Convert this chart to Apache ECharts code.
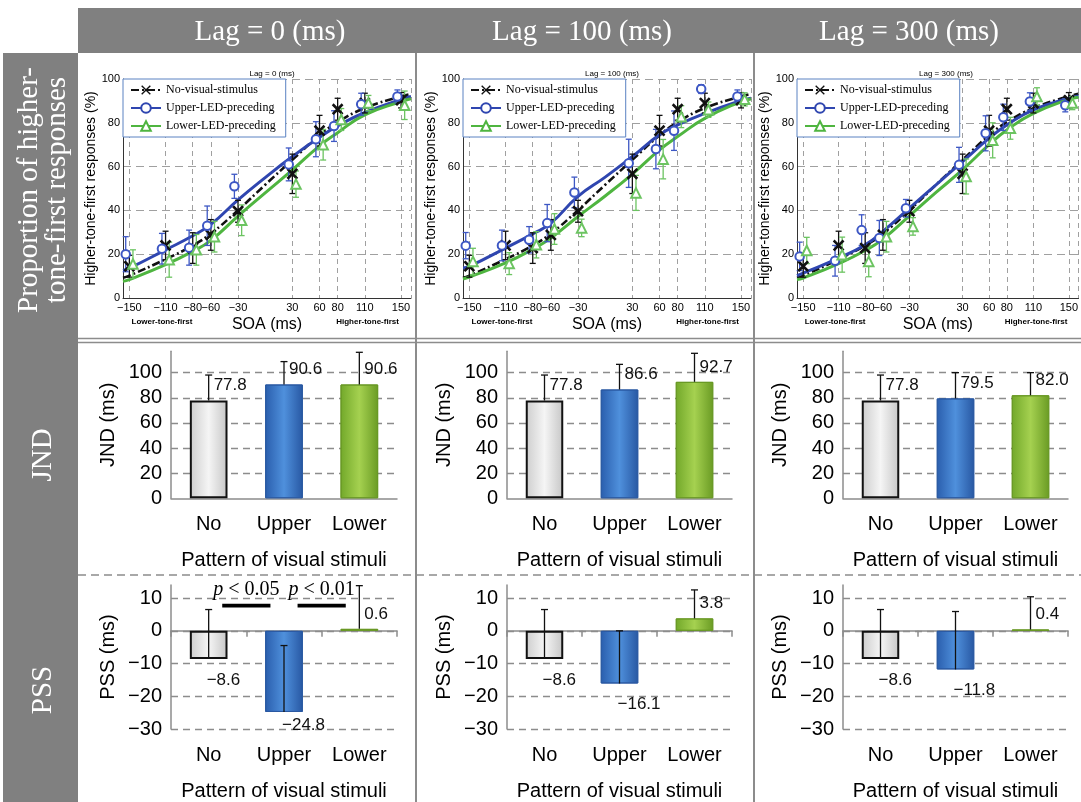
<!DOCTYPE html>
<html><head><meta charset="utf-8">
<script src="https://cdn.jsdelivr.net/npm/echarts@6/dist/echarts.min.js"></script>
<style>html,body{margin:0;padding:0;background:#fff}#c{width:1081px;height:802px}</style>
</head><body><div id="c"></div>
<script>
// ---------------- DATA ----------------
const lagTitles = ['Lag = 0 (ms)', 'Lag = 100 (ms)', 'Lag = 300 (ms)'];
const rowLabels = ['Proportion of higher-\ntone-first responses', 'JND', 'PSS'];
const seriesNames = ['No-visual-stimulus', 'Upper-LED-preceding', 'Lower-LED-preceding'];
const directionLabels = ['Lower-tone-first', 'Higher-tone-first'];
const soaValues = [-150, -110, -80, -60, -30, 30, 60, 80, 110, 150];
const fitSoa = [-157, -150, -110, -80, -60, -30, 0, 30, 60, 80, 110, 150, 161];

const fitNo          = [9.2, 10.2, 17.7, 24.0, 29.4, 40.1, 51.7, 63.1, 74.3, 80.3, 86.7, 92.1, 93.2];
const fitUpperLag0   = [12.6, 13.6, 22.0, 28.4, 33.6, 44.8, 55.0, 64.6, 73.4, 78.6, 84.7, 90.7, 92.0];
const fitLowerLag0   = [7.6, 8.4, 15.2, 21.3, 26.3, 37.4, 48.0, 58.5, 69.5, 75.5, 83.6, 89.7, 91.0];
const fitUpperLag100 = [13.7, 14.4, 22.8, 29.3, 34.2, 46.4, 55.2, 64.6, 74.5, 79.0, 84.3, 90.1, 91.2];
const fitLowerLag100 = [8.7, 9.6, 16.0, 22.3, 27.4, 37.2, 46.6, 56.6, 67.6, 73.7, 82.0, 89.7, 90.9];
const fitUpperLag300 = [10.2, 11.4, 18.2, 24.3, 30.4, 41.0, 51.7, 62.3, 73.0, 79.0, 85.9, 91.2, 92.2];
const fitLowerLag300 = [8.4, 9.1, 15.7, 21.7, 26.9, 37.5, 48.2, 58.6, 70.0, 76.7, 84.3, 90.7, 91.7];

const noMean          = [14.5, 24.0, 22.8, 28.8, 39.6, 56.7, 76.4, 86.2, 89.0, 90.3];
const noSd            = [5, 6.5, 7, 7, 5, 9, 7, 5, 4.5, 3.5];
const upperMeanLag0   = [20.0, 22.5, 23.0, 33.0, 51.0, 61.0, 72.5, 78.5, 88.5, 92.0];
const upperSdLag0     = [8, 7, 8, 9, 5.5, 7.5, 8, 7, 5, 3];
const lowerMeanLag0   = [15.5, 17.5, 22.0, 28.0, 35.5, 52.0, 70.0, 81.5, 89.0, 88.0];
const lowerSdLag0     = [6.5, 8, 7, 7, 7, 6, 7, 5, 3.5, 6.5];
const upperMeanLag100 = [23.9, 24.0, 26.6, 34.2, 48.2, 61.5, 68.0, 76.4, 95.4, 92.0];
const upperSdLag100   = [6, 7, 6, 8.5, 7, 11, 9, 9, 2, 3];
const lowerMeanLag100 = [16.7, 15.7, 24.3, 31.5, 32.0, 48.0, 63.4, 82.8, 86.0, 90.7];
const lowerSdLag100   = [6, 5, 6, 7, 4, 8, 9, 5, 3.5, 3];
const upperMeanLag300 = [19.0, 17.0, 31.0, 27.4, 41.0, 60.8, 75.2, 82.5, 89.7, 88.0];
const upperSdLag300   = [6.5, 7, 7, 8, 4, 8, 8, 6, 4, 3];
const lowerMeanLag300 = [21.7, 19.8, 16.7, 28.0, 32.7, 55.5, 72.0, 77.5, 92.0, 89.0];
const lowerSdLag300   = [6, 8, 7, 7, 4, 8, 8, 5, 4, 3];

const patternCats = ['No', 'Upper', 'Lower'];
const jndTicks = [0, 20, 40, 60, 80, 100];
const pssTicks = [-30, -20, -10, 0, 10];
const jndLag0 = [77.8, 90.6, 90.6];   const jndSdLag0 = [20.3, 18.2, 25.6];
const jndLag100 = [77.8, 86.6, 92.7]; const jndSdLag100 = [20.3, 20.0, 22.7];
const jndLag300 = [77.8, 79.5, 82.0]; const jndSdLag300 = [20.3, 20.5, 18.0];
const pssLag0 = [-8.6, -24.8, 0.6];   const pssSdLag0 = [15.1, 20.3, 13.2];
const pssLag100 = [-8.6, -16.1, 3.8]; const pssSdLag100 = [15.1, 16.1, 8.7];
const pssLag300 = [-8.6, -11.8, 0.4]; const pssSdLag300 = [15.1, 17.7, 10.0];
const sigPairs = [[0, 1], [1, 2]];
const sigLabels = ['p < 0.05', 'p < 0.01'];

// ---------------- BUILD ----------------
const fitLag = [[fitNo, fitUpperLag0, fitLowerLag0], [fitNo, fitUpperLag100, fitLowerLag100], [fitNo, fitUpperLag300, fitLowerLag300]];
const meanLag = [[noMean, upperMeanLag0, lowerMeanLag0], [noMean, upperMeanLag100, lowerMeanLag100], [noMean, upperMeanLag300, lowerMeanLag300]];
const sdLag = [[noSd, upperSdLag0, lowerSdLag0], [noSd, upperSdLag100, lowerSdLag100], [noSd, upperSdLag300, lowerSdLag300]];
const jndLag = [jndLag0, jndLag100, jndLag300];
const jndSdLag = [jndSdLag0, jndSdLag100, jndSdLag300];
const pssLag = [pssLag0, pssLag100, pssLag300];
const pssSdLag = [pssSdLag0, pssSdLag100, pssSdLag300];

const SANS = '"Liberation Sans", Arial, sans-serif';
const SERIF = '"Liberation Serif", "Times New Roman", serif';
const minus = v => String(v).replace('-', '\u2212');
const xMin = -157, xMax = 161;
const psychLeft = [123, 463, 797];
const barLeft = [171, 507, 843];
const barW = [226, 225, 225];
const lineColors = ['#111111', '#2f46b0', '#4fb540'];
const markColors = ['#111111', '#3d57c4', '#6cc461'];
const crossPath = 'path://M1,0L5,4L9,0L10,1L6,5L10,9L9,10L5,6L1,10L0,9L4,5L0,1Z';
const symbols = [crossPath, 'emptyCircle', 'emptyTriangle'];
const symbolSizes = [10, 8.5, 9.5];
const dodge = [0, -4, 4];

function grad(a, b, c) {
  return new echarts.graphic.LinearGradient(0, 0, 1, 0, [{offset: 0, color: a}, {offset: 0.5, color: b}, {offset: 1, color: c}]);
}
function barStyle(i) {
  if (i === 0) return {color: grad('#cdcdcd', '#f5f5f5', '#c6c6c6'), borderColor: '#111', borderWidth: 2};
  if (i === 1) return {color: grad('#2a5ead', '#4f90dc', '#2858a3'), borderColor: '#2a59a2', borderWidth: 1};
  return {color: grad('#72a82a', '#a5d150', '#6a9b24'), borderColor: '#689824', borderWidth: 1};
}

function renderErr(params, api) {
  const x = api.value(0), m = api.value(1), s = api.value(2);
  const p1 = api.coord([x, m - s]), p2 = api.coord([x, m + s]);
  const c = 3;
  const st = {stroke: api.visual('color'), lineWidth: 1.3};
  return {type: 'group', children: [
    {type: 'line', shape: {x1: p1[0], y1: p1[1], x2: p2[0], y2: p2[1]}, style: st},
    {type: 'line', shape: {x1: p1[0] - c, y1: p1[1], x2: p1[0] + c, y2: p1[1]}, style: st},
    {type: 'line', shape: {x1: p2[0] - c, y1: p2[1], x2: p2[0] + c, y2: p2[1]}, style: st}
  ]};
}
function makeBarErr(yMin) {
  return function (params, api) {
    const i = api.value(0), m = api.value(1), s = api.value(2);
    const base = api.coord([i, m]), top = api.coord([i, m + s]);
    const floorY = api.coord([i, yMin])[1];
    const st = {stroke: '#111', lineWidth: 1.3};
    let tx, ty;
    if (m >= 0) { tx = base[0] + 5; ty = base[1] - 15; }
    else { tx = base[0] - 2; ty = Math.min(base[1] + 21, floorY - 4); }
    return {type: 'group', children: [
      {type: 'line', shape: {x1: base[0], y1: base[1], x2: top[0], y2: top[1]}, style: st},
      {type: 'line', shape: {x1: top[0] - 3.5, y1: top[1], x2: top[0] + 3.5, y2: top[1]}, style: st},
      {type: 'text', x: tx, y: ty, style: {text: minus(m.toFixed(1)), fill: '#111', font: '17px ' + SANS,
        align: 'left', verticalAlign: 'middle', textAlign: 'left', textVerticalAlign: 'middle'}}
    ]};
  };
}
function renderSig(params, api) {
  const pr = sigPairs[params.dataIndex];
  const a = api.coord([pr[0], 7.7]), b = api.coord([pr[1], 7.7]);
  const mid = (a[0] + b[0]) / 2;
  const hw = api.size([1, 0])[0] * 0.32;
  const ty = api.coord([pr[0], 12.5])[1];
  return {type: 'group', children: [
    {type: 'rect', shape: {x: mid - hw, y: a[1] - 1.8, width: hw * 2, height: 3.6}, style: {fill: '#000'}},
    {type: 'text', x: mid, y: ty, style: {text: '{i|p}' + sigLabels[params.dataIndex].slice(1), fill: '#000',
      font: '20px ' + SERIF, align: 'center', verticalAlign: 'middle', textAlign: 'center', textVerticalAlign: 'middle',
      rich: {i: {fontStyle: 'italic', fontSize: 20, fontFamily: SERIF}}}}
  ]};
}

const grids = [], xAxes = [], yAxes = [], series = [], titles = [], legends = [];

// psychometric row
for (let p = 0; p < 3; p++) {
  grids.push({left: psychLeft[p], top: 79, width: 288, height: 219});
  xAxes.push({gridIndex: p, type: 'value', min: xMin, max: xMax,
    axisLine: {show: true, onZero: false, lineStyle: {color: '#333', width: 1}},
    axisTick: {show: false, customValues: soaValues.concat([xMax])},
    axisLabel: {customValues: soaValues, formatter: minus, fontSize: 11, fontFamily: SANS, color: '#000', margin: 4},
    splitLine: {show: true, lineStyle: {color: '#a0a0a0', type: [5, 4], width: 1}},
    name: 'SOA (ms)', nameLocation: 'middle', nameGap: 19,
    nameTextStyle: {fontSize: 16, fontFamily: SANS, color: '#000'}});
  yAxes.push({gridIndex: p, type: 'value', min: 0, max: 100, interval: 20,
    axisLine: {show: true, onZero: false, lineStyle: {color: '#333', width: 1}},
    axisTick: {show: false},
    axisLabel: {fontSize: 11, fontFamily: SANS, color: '#000', margin: 3},
    splitLine: {show: true, lineStyle: {color: '#a0a0a0', type: [8, 5], width: 1}},
    name: 'Higher-tone-first responses (%)', nameLocation: 'middle', nameGap: 22,
    nameTextStyle: {fontSize: 14, fontFamily: SANS, color: '#000'}});
  for (let k = 0; k < 3; k++) {
    series.push({type: 'line', name: seriesNames[k], xAxisIndex: p, yAxisIndex: p,
      data: fitSoa.map((x, i) => [x, fitLag[p][k][i]]),
      smooth: 0.5, showSymbol: false, symbol: symbols[k], symbolSize: symbolSizes[k],
      lineStyle: {color: lineColors[k], width: k === 0 ? 2.6 : 3, type: k === 0 ? [8, 3, 2, 3] : 'solid'},
      itemStyle: {color: lineColors[k]}, z: 3, silent: true});
  }
  for (let k = 0; k < 3; k++) {
    series.push({type: 'scatter', name: seriesNames[k], xAxisIndex: p, yAxisIndex: p,
      data: soaValues.map((x, i) => [x + dodge[k], meanLag[p][k][i]]),
      symbol: symbols[k], symbolSize: symbolSizes[k],
      itemStyle: {color: markColors[k], borderColor: markColors[k], borderWidth: 1.2, opacity: 1}, z: 4, silent: true});
    series.push({type: 'custom', name: seriesNames[k], xAxisIndex: p, yAxisIndex: p,
      data: soaValues.map((x, i) => [x + dodge[k], meanLag[p][k][i], sdLag[p][k][i]]),
      encode: {x: 0, y: 1}, renderItem: renderErr, itemStyle: {color: markColors[k]}, z: 4, silent: true});
  }
  titles.push({text: lagTitles[p], left: psychLeft[p] + 144, top: 65, textAlign: 'center',
    textStyle: {fontSize: 8, fontWeight: 'normal', fontFamily: SANS, color: '#000'}});
  legends.push({data: seriesNames, orient: 'vertical', left: psychLeft[p], top: 79, itemWidth: 30, itemHeight: 12,
    itemGap: 6, padding: [5, 10, 5, 7], backgroundColor: '#fff', borderColor: '#5a82c2', borderWidth: 1,
    textStyle: {fontFamily: SERIF, fontSize: 12, color: '#000'}, selectedMode: false, z: 10});
}

// JND row
for (let p = 0; p < 3; p++) {
  const g = 3 + p;
  grids.push({left: barLeft[p], top: 351.3, width: barW[p], height: 147});
  xAxes.push({gridIndex: g, type: 'category', data: patternCats,
    axisLine: {lineStyle: {color: '#8c8c8c', width: 1.5}},
    axisTick: {length: 6, lineStyle: {color: '#8c8c8c', width: 1.5}},
    axisLabel: {fontSize: 20, fontFamily: SANS, color: '#000', margin: 16},
    name: 'Pattern of visual stimuli', nameLocation: 'middle', nameGap: 52,
    nameTextStyle: {fontSize: 20, fontFamily: SANS, color: '#000'}});
  yAxes.push({gridIndex: g, type: 'value', min: 0, max: 117, interval: 20,
    axisLine: {show: true, lineStyle: {color: '#8c8c8c', width: 1.5}},
    axisTick: {show: false},
    axisLabel: {fontSize: 20, fontFamily: SANS, color: '#000', margin: 9, showMaxLabel: false,
      formatter: v => jndTicks.includes(v) ? minus(v) : ''},
    splitLine: {show: true, showMinLine: false, showMaxLine: false, lineStyle: {color: '#8c8c8c', type: [7, 5], width: 1.3}},
    name: 'JND (ms)', nameLocation: 'middle', nameGap: 53,
    nameTextStyle: {fontSize: 20, fontFamily: SANS, color: '#000'}});
  series.push({type: 'bar', xAxisIndex: g, yAxisIndex: g, barWidth: '50%',
    data: jndLag[p].map((v, i) => ({value: v, itemStyle: barStyle(i)})), z: 2, silent: true});
  series.push({type: 'custom', xAxisIndex: g, yAxisIndex: g, encode: {x: 0, y: 1}, clip: false,
    data: jndLag[p].map((v, i) => [i, v, jndSdLag[p][i]]), renderItem: makeBarErr(0), z: 4, silent: true});
}

// PSS row
for (let p = 0; p < 3; p++) {
  const g = 6 + p;
  grids.push({left: barLeft[p], top: 585, width: barW[p], height: 146});
  xAxes.push({gridIndex: g, type: 'category', data: patternCats, position: 'bottom',
    axisLine: {show: false, onZero: false}, axisTick: {show: false},
    axisLabel: {fontSize: 20, fontFamily: SANS, color: '#000', margin: 16},
    name: 'Pattern of visual stimuli', nameLocation: 'middle', nameGap: 52,
    nameTextStyle: {fontSize: 20, fontFamily: SANS, color: '#000'}});
  yAxes.push({gridIndex: g, type: 'value', min: -30, max: 14, interval: 10,
    axisLine: {show: true, onZero: false, lineStyle: {color: '#8c8c8c', width: 1.5}},
    axisTick: {show: false},
    axisLabel: {fontSize: 20, fontFamily: SANS, color: '#000', margin: 9, showMaxLabel: false,
      formatter: v => pssTicks.includes(v) ? minus(v) : ''},
    splitLine: {show: true, showMinLine: true, showMaxLine: false, lineStyle: {color: '#8c8c8c', type: [7, 5], width: 1.3}},
    name: 'PSS (ms)', nameLocation: 'middle', nameGap: 53,
    nameTextStyle: {fontSize: 20, fontFamily: SANS, color: '#000'}});
  series.push({type: 'bar', xAxisIndex: g, yAxisIndex: g, barWidth: '50%',
    data: pssLag[p].map((v, i) => ({value: v, itemStyle: barStyle(i)})), z: 2, silent: true});
  series.push({type: 'custom', xAxisIndex: g, yAxisIndex: g, encode: {x: 0, y: 1}, clip: false,
    data: pssLag[p].map((v, i) => [i, v, pssSdLag[p][i]]), renderItem: makeBarErr(-30), z: 4, silent: true});
  if (p === 0) {
    series.push({type: 'custom', xAxisIndex: g, yAxisIndex: g, encode: {x: 0, y: 1}, clip: false,
      data: sigPairs.map(pr => [pr[0], pr[1]]), renderItem: renderSig, z: 5, silent: true});
  }
}
// zero lines for PSS
for (let p = 0; p < 3; p++) {
  xAxes.push({gridIndex: 6 + p, type: 'category', data: patternCats, position: 'bottom',
    axisLine: {show: true, onZero: true, lineStyle: {color: '#8c8c8c', width: 1.5}},
    axisTick: {show: true, length: 6, lineStyle: {color: '#8c8c8c', width: 1.5}},
    axisLabel: {show: false}});
}

const frame = [
  {type: 'rect', shape: {x: 78, y: 8, width: 1003, height: 45}, style: {fill: '#808080'}},
  {type: 'rect', shape: {x: 3, y: 53, width: 75, height: 749}, style: {fill: '#808080'}},
  {type: 'line', shape: {x1: 416, y1: 53, x2: 416, y2: 802}, style: {stroke: '#8c8c8c', lineWidth: 2}},
  {type: 'line', shape: {x1: 754, y1: 53, x2: 754, y2: 802}, style: {stroke: '#8c8c8c', lineWidth: 2}},
  {type: 'line', shape: {x1: 78, y1: 338.5, x2: 1081, y2: 338.5}, style: {stroke: '#8c8c8c', lineWidth: 1.5}},
  {type: 'line', shape: {x1: 78, y1: 342.5, x2: 1081, y2: 342.5}, style: {stroke: '#8c8c8c', lineWidth: 1.5}},
  {type: 'line', shape: {x1: 78, y1: 575, x2: 1081, y2: 575}, style: {stroke: '#8c8c8c', lineWidth: 1.5, lineDash: [8, 5]}}
];
const headerX = [270, 582, 909];
for (let p = 0; p < 3; p++) {
  frame.push({type: 'text', x: headerX[p], y: 32, style: {text: lagTitles[p], fill: '#fff', font: '29px ' + SERIF,
    align: 'center', verticalAlign: 'middle', textAlign: 'center', textVerticalAlign: 'middle'}});
}
const rowY = [190, 455, 690];
for (let r = 0; r < 3; r++) {
  frame.push({type: 'text', x: 43, y: rowY[r], rotation: Math.PI / 2, style: {text: rowLabels[r], fill: '#fff',
    font: '29px ' + SERIF, lineHeight: 28, align: 'center', verticalAlign: 'middle', textAlign: 'center', textVerticalAlign: 'middle'}});
}

const chart = echarts.init(document.getElementById('c'));
chart.setOption({
  animation: false, backgroundColor: '#fff',
  grid: grids, xAxis: xAxes, yAxis: yAxes, series: series, title: titles, legend: legends, graphic: frame
});
// direction annotations under the SOA axis
const dirVals = [-114, 113];
const extra = frame.slice();
for (let p = 0; p < 3; p++) {
  for (let d = 0; d < 2; d++) {
    const pt = chart.convertToPixel({gridIndex: p}, [dirVals[d], 0]);
    extra.push({type: 'text', x: pt[0], y: pt[1] + 24, style: {text: directionLabels[d], fill: '#000',
      font: 'bold 8px ' + SANS, align: 'center', verticalAlign: 'middle', textAlign: 'center', textVerticalAlign: 'middle'}});
  }
}
chart.setOption({graphic: extra});
</script></body></html>
